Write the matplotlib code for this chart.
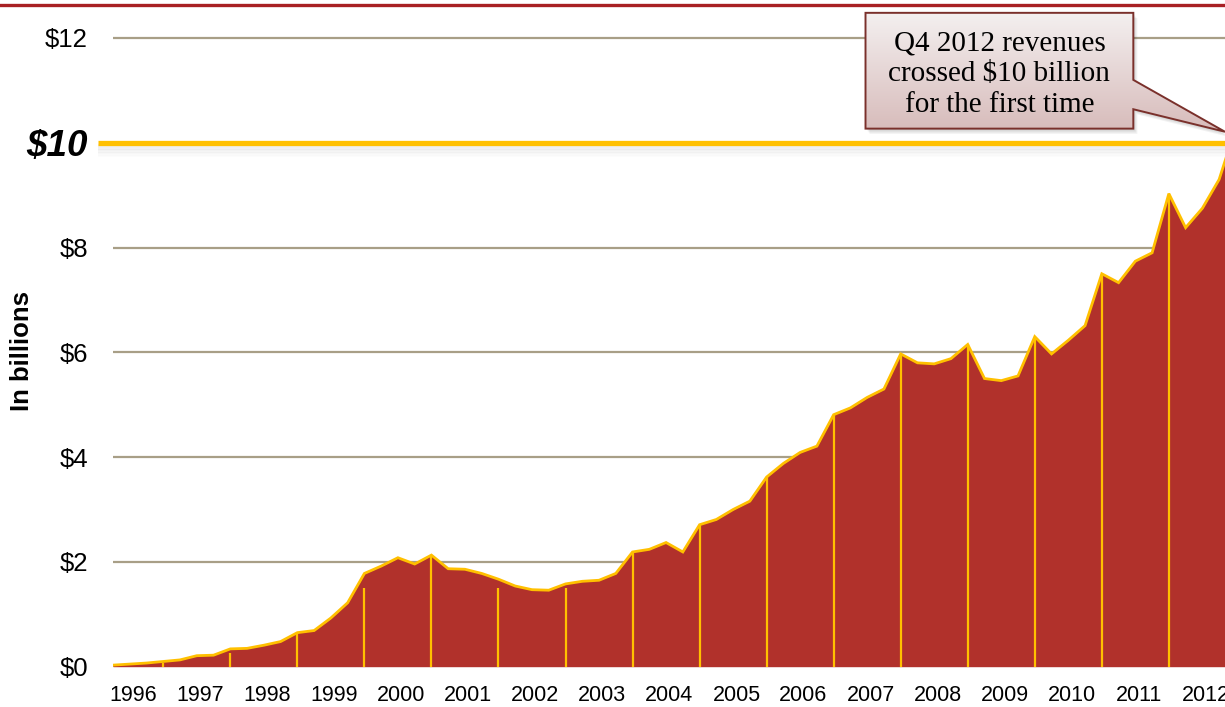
import numpy as np
import matplotlib
matplotlib.use('Agg')
import matplotlib.pyplot as plt
from matplotlib.lines import Line2D
from matplotlib.patches import Polygon
from matplotlib.colors import LinearSegmentedColormap

# quarterly revenues, $ billions, Q1 1996 .. Q4 2012
revenue = [
    0.03, 0.05, 0.07, 0.10,   # 1996
    0.13, 0.21, 0.22, 0.34,   # 1997
    0.35, 0.41, 0.48, 0.65,   # 1998
    0.69, 0.93, 1.22, 1.78,   # 1999
    1.92, 2.08, 1.96, 2.13,   # 2000
    1.87, 1.86, 1.78, 1.67,   # 2001
    1.54, 1.47, 1.46, 1.58,   # 2002
    1.63, 1.65, 1.78, 2.19,   # 2003
    2.24, 2.37, 2.19, 2.71,   # 2004
    2.81, 3.00, 3.16, 3.62,   # 2005
    3.88, 4.09, 4.21, 4.81,   # 2006
    4.94, 5.14, 5.30, 5.97,   # 2007
    5.80, 5.78, 5.88, 6.15,   # 2008
    5.50, 5.46, 5.55, 6.30,   # 2009
    5.97, 6.23, 6.51, 7.50,   # 2010
    7.33, 7.74, 7.90, 9.03,   # 2011
    8.38, 8.75, 9.30, 10.30,  # 2012
]
years = [str(y) for y in range(1996, 2013)]
# Q4 marker lines (top / bottom) as drawn in the original
q4_top = [0.08, 0.26, 0.65, 1.50, 2.13, 1.50, 1.50, 2.19, 2.71, 3.62,
          4.81, 5.97, 6.15, 6.30, 7.50, 9.03, 10.30]
q4_bottom = [-0.06, 0, 0, 0, 0, -0.06, 0, 0, 0, 0, 0, 0, 0, 0, 0, 0, 0]
yticks = [0, 2, 4, 6, 8, 10, 12]
callout_text = "Q4 2012 revenues\ncrossed $10 billion\nfor the first time"

red = '#B1312B'
gold = '#FFC000'
grid_c = '#A89F87'

fig = plt.figure(figsize=(12.25, 7.07), dpi=100)
ax = fig.add_axes([113 / 1225, 40.3 / 707, 1 - 113 / 1225, 1 - 40.3 / 707])

x = np.arange(len(revenue))
xmax, ymax = 66.35, 12.725

# gridlines
for v in yticks:
    if v == 10:
        continue
    ax.axhline(v, color=grid_c, lw=1.6, zorder=1)

ax.fill_between(x, revenue, 0, color=red, lw=0, zorder=2)
ax.plot(x, revenue, color=gold, lw=2.0, zorder=3, solid_joinstyle='miter')
q4_x = x[3::4]
ax.vlines(q4_x, q4_bottom, q4_top, color=gold, lw=1.6, zorder=3)

# $10 highlight line with soft shadow
for k in range(8):
    ax.plot([-0.89, xmax], [10 - 0.05 - 0.03 * k] * 2, color='#808080',
            alpha=0.12 * (1 - k / 8), lw=1.6, zorder=3.5, clip_on=False,
            solid_capstyle='butt')
ax.plot([-0.89, xmax], [10, 10], color=gold, lw=3.8, zorder=4, clip_on=False,
        solid_capstyle='butt')

# callout
bx0, bx1, by0, by1 = 44.9, 60.88, 10.27, 12.48
tip = (xmax, 10.21)
pts = [(bx0, by0), (bx0, by1), (bx1, by1), (bx1, 11.20), tip, (bx1, 10.64), (bx1, by0)]
for k in range(1, 5):
    sh = Polygon([(px + 0.06 * k, py - 0.025 * k) for px, py in pts], closed=True,
                 fc='#000000', ec='none', alpha=0.05, zorder=5)
    ax.add_patch(sh)
poly = Polygon(pts, closed=True, fc='none', ec='#7A302B', lw=1.4, zorder=7)
ax.add_patch(poly)
cmap = LinearSegmentedColormap.from_list('callout', ['#D7BBBA', '#F4F0F0'])
grad = np.linspace(0, 1, 256).reshape(-1, 1)
im = ax.imshow(grad, extent=[bx0, xmax, 10.2, by1], origin='lower', aspect='auto',
               cmap=cmap, zorder=6)
im.set_clip_path(poly)
ax.text((bx0 + bx1) / 2, (by0 + by1) / 2 - 0.07, callout_text, ha='center', va='center',
        fontsize=21, family='Liberation Serif', linespacing=1.24, zorder=8)

ax.set_xlim(0, xmax)
ax.set_ylim(0, ymax)

ax.set_xticks(np.arange(len(years)) * 4 + 1.2)
ax.set_xticklabels(years, fontsize=15.5, family='Liberation Sans')
ax.set_yticks(yticks)
ylabels = ax.set_yticklabels(['$' + str(v) for v in yticks], fontsize=18.5,
                             family='Liberation Sans')
for lab in ylabels:
    if lab.get_text() == '$10':
        lab.set_fontsize(26.5)
        lab.set_fontweight('bold')
        lab.set_fontstyle('italic')
ax.tick_params(axis='both', length=0)
ax.tick_params(axis='x', pad=13)
ax.tick_params(axis='y', pad=18)
for s in ax.spines.values():
    s.set_visible(False)

fig.text(22 / 1225, 1 - 351 / 707, 'In billions', rotation=90, ha='center', va='center',
         fontsize=18.5, fontweight='bold', family='Liberation Sans')

# red rule at the top
fig.add_artist(Line2D([0, 1], [1 - 5 / 707] * 2, color='#A82024', lw=2.4))

fig.savefig('out.png', dpi=100)
